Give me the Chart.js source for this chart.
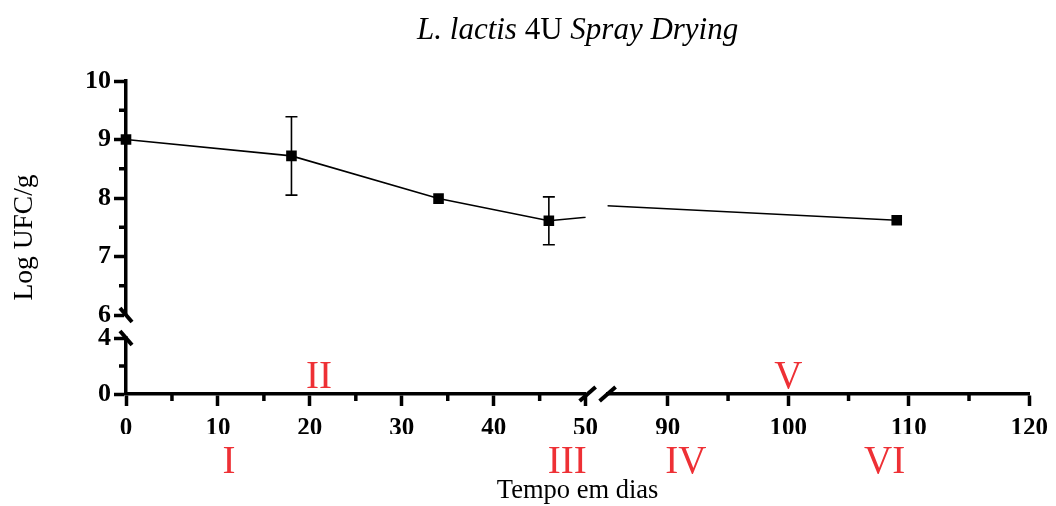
<!DOCTYPE html>
<html lang="pt">
<head>
<meta charset="utf-8">
<title>L. lactis 4U Spray Drying</title>
<script src="https://cdn.jsdelivr.net/npm/chart.js"></script>
<style>
  body { margin: 0; background: #fff; }
</style>
</head>
<body>
<canvas id="chart" width="1056" height="506"></canvas>
<script>
// values (day, mean log UFC/g, error)
const days = [0, 18, 34, 46, 72, 109];
const logUfc = [9.0, 8.72, 7.99, 7.61, 8.0, 7.62];
const errs = [0, 0.67, 0, 0.41, 0, 0];

// tick labels (major) and unlabelled minor ticks of each axis segment
const xLeftTicks = [0, 10, 20, 30, 40, 50];
const xLeftMinor = [5, 15, 25, 35, 45];
const xRightTicks = [90, 100, 110, 120];
const xRightMinor = [95, 105, 115];
const yTopTicks = [6, 7, 8, 9, 10];
const yTopMinor = [6.5, 7.5, 8.5, 9.5];
const yBottomTicks = [0, 4];
const yBottomMinor = [2];

// red phase markers under / over the time axis
const phaseLabels = ['I', 'II', 'III', 'IV', 'V', 'VI'];
const phaseDays = [11.2, 21, 48, 91.5, 100, 108];
const phaseAbove = [false, true, false, false, true, false];

const serif = '"Liberation Serif", "Times New Roman", serif';
const points = days.map((d, i) => ({ x: d, y: logUfc[i] }));

function axis(opts, tickList, fontSize, pad) {
  return Object.assign({
    type: 'linear',
    grid: { display: true, drawOnChartArea: false, drawTicks: true, tickLength: 12, tickWidth: 3.5, tickColor: '#000' },
    border: { display: true, color: '#000', width: 3.5 },
    ticks: {
      color: '#000', padding: pad, autoSkip: false, maxRotation: 0,
      font: { family: serif, size: fontSize, weight: 'bold' },
      callback: v => String(v)
    },
    afterBuildTicks: s => { s.ticks = tickList.map(v => ({ value: v })); }
  }, opts);
}

function gap(opts) {
  return Object.assign({
    type: 'linear', min: 0, max: 1,
    grid: { display: false }, border: { display: false }, ticks: { display: false }
  }, opts);
}

const fitX = s => { s.height = 40; };
const fitY = s => { s.width = 56; };

const decorations = {
  id: 'decorations',
  afterDatasetsDraw(chart) {
    const ctx = chart.ctx;
    ctx.save();
    ctx.strokeStyle = '#000';
    ctx.lineWidth = 1.6;
    ['xL', 'xR'].forEach(id => {
      const xs = chart.scales[id], ys = chart.scales.yT;
      days.forEach((d, i) => {
        if (!errs[i] || d < xs.min || d > xs.max) return;
        const px = xs.getPixelForValue(d);
        const top = ys.getPixelForValue(logUfc[i] + errs[i]);
        const bot = ys.getPixelForValue(logUfc[i] - errs[i]);
        ctx.beginPath();
        ctx.moveTo(px, top); ctx.lineTo(px, bot);
        ctx.moveTo(px - 6, top); ctx.lineTo(px + 6, top);
        ctx.moveTo(px - 6, bot); ctx.lineTo(px + 6, bot);
        ctx.stroke();
      });
    });
    ctx.restore();
  },
  afterDraw(chart) {
    const ctx = chart.ctx;
    const s = chart.scales;
    ctx.save();
    ctx.strokeStyle = '#000';
    ctx.lineWidth = 3.5;
    // minor ticks
    [['xL', xLeftMinor], ['xR', xRightMinor]].forEach(([id, list]) => {
      list.forEach(v => {
        const px = s[id].getPixelForValue(v);
        ctx.beginPath(); ctx.moveTo(px, s[id].top); ctx.lineTo(px, s[id].top + 7); ctx.stroke();
      });
    });
    [['yT', yTopMinor], ['yB', yBottomMinor]].forEach(([id, list]) => {
      list.forEach(v => {
        const py = s[id].getPixelForValue(v);
        ctx.beginPath(); ctx.moveTo(s[id].right, py); ctx.lineTo(s[id].right - 7, py); ctx.stroke();
      });
    });
    // axis break marks
    ctx.lineWidth = 4;
    const yx = s.yT.right;
    [s.yT.bottom, s.yB.top].forEach(py => {
      ctx.beginPath(); ctx.moveTo(yx - 6, py - 7); ctx.lineTo(yx + 6, py + 7); ctx.stroke();
    });
    const xy = s.xL.top;
    [s.xL.right + 2, s.xR.left].forEach(px => {
      ctx.beginPath(); ctx.moveTo(px - 8, xy + 7); ctx.lineTo(px + 8, xy - 7); ctx.stroke();
    });

    const cx = (chart.chartArea.left + chart.chartArea.right) / 2;
    ctx.fillStyle = '#000';
    // title, mixed italic / upright
    const parts = [['italic ', 'L. lactis '], ['', '4U '], ['italic ', 'Spray Drying']];
    let total = 0;
    parts.forEach(p => { ctx.font = p[0] + '31px ' + serif; total += ctx.measureText(p[1]).width; });
    let tx = cx - total / 2;
    ctx.textBaseline = 'alphabetic';
    ctx.textAlign = 'left';
    parts.forEach(p => {
      ctx.font = p[0] + '31px ' + serif;
      ctx.fillText(p[1], tx, 39);
      tx += ctx.measureText(p[1]).width;
    });
    // axis titles
    ctx.font = '26.5px ' + serif;
    ctx.textAlign = 'center';
    ctx.fillText('Tempo em dias', cx, 498);
    ctx.save();
    ctx.font = '27.5px ' + serif;
    ctx.translate(25, (s.yT.top + s.yB.bottom) / 2);
    ctx.rotate(-Math.PI / 2);
    ctx.textBaseline = 'middle';
    ctx.fillText('Log UFC/g', 0, 0);
    ctx.restore();
    // phase numerals
    ctx.font = '39px ' + serif;
    ctx.fillStyle = '#ee3035';
    phaseLabels.forEach((t, i) => {
      const xs = phaseDays[i] <= 50 ? s.xL : s.xR;
      ctx.fillText(t, xs.getPixelForValue(phaseDays[i]), phaseAbove[i] ? 388 : 473);
    });
    ctx.restore();
  }
};

const lineStyle = {
  borderColor: '#000', borderWidth: 1.6,
  pointStyle: 'rect', pointRadius: 7.5, pointBackgroundColor: '#000', pointBorderWidth: 0,
  tension: 0, fill: false
};

new Chart(document.getElementById('chart'), {
  type: 'line',
  data: {
    datasets: [
      Object.assign({ data: points, xAxisID: 'xL', yAxisID: 'yT', clip: { left: 12, right: 0, top: 12, bottom: 12 } }, lineStyle),
      Object.assign({ data: points, xAxisID: 'xR', yAxisID: 'yT', clip: { left: 0, right: 12, top: 12, bottom: 12 } }, lineStyle)
    ]
  },
  options: {
    responsive: false,
    animation: false,
    layout: { padding: { left: 70, right: 26, top: 81, bottom: 72 } },
    plugins: { legend: { display: false }, tooltip: { enabled: false }, title: { display: false } },
    scales: {
      xL: axis({ position: 'bottom', stack: 'x', stackWeight: 460, weight: 1, min: 0, max: 50, afterFit: fitX }, xLeftTicks, 25, 8),
      xG: gap({ position: 'bottom', stack: 'x', stackWeight: 22, weight: 2, afterFit: fitX }),
      xR: axis({ position: 'bottom', stack: 'x', stackWeight: 422, weight: 3, min: 85, max: 120, afterFit: fitX }, xRightTicks, 25, 8),
      yT: axis({ position: 'left', stack: 'y', stackWeight: 234, weight: 3, min: 6, max: 10, afterFit: fitY }, yTopTicks, 26, 3),
      yG: gap({ position: 'left', stack: 'y', stackWeight: 23, weight: 2, afterFit: fitY }),
      yB: axis({ position: 'left', stack: 'y', stackWeight: 56, weight: 1, min: 0, max: 4, afterFit: fitY }, yBottomTicks, 26, 3)
    }
  },
  plugins: [decorations]
});
</script>
</body>
</html>
